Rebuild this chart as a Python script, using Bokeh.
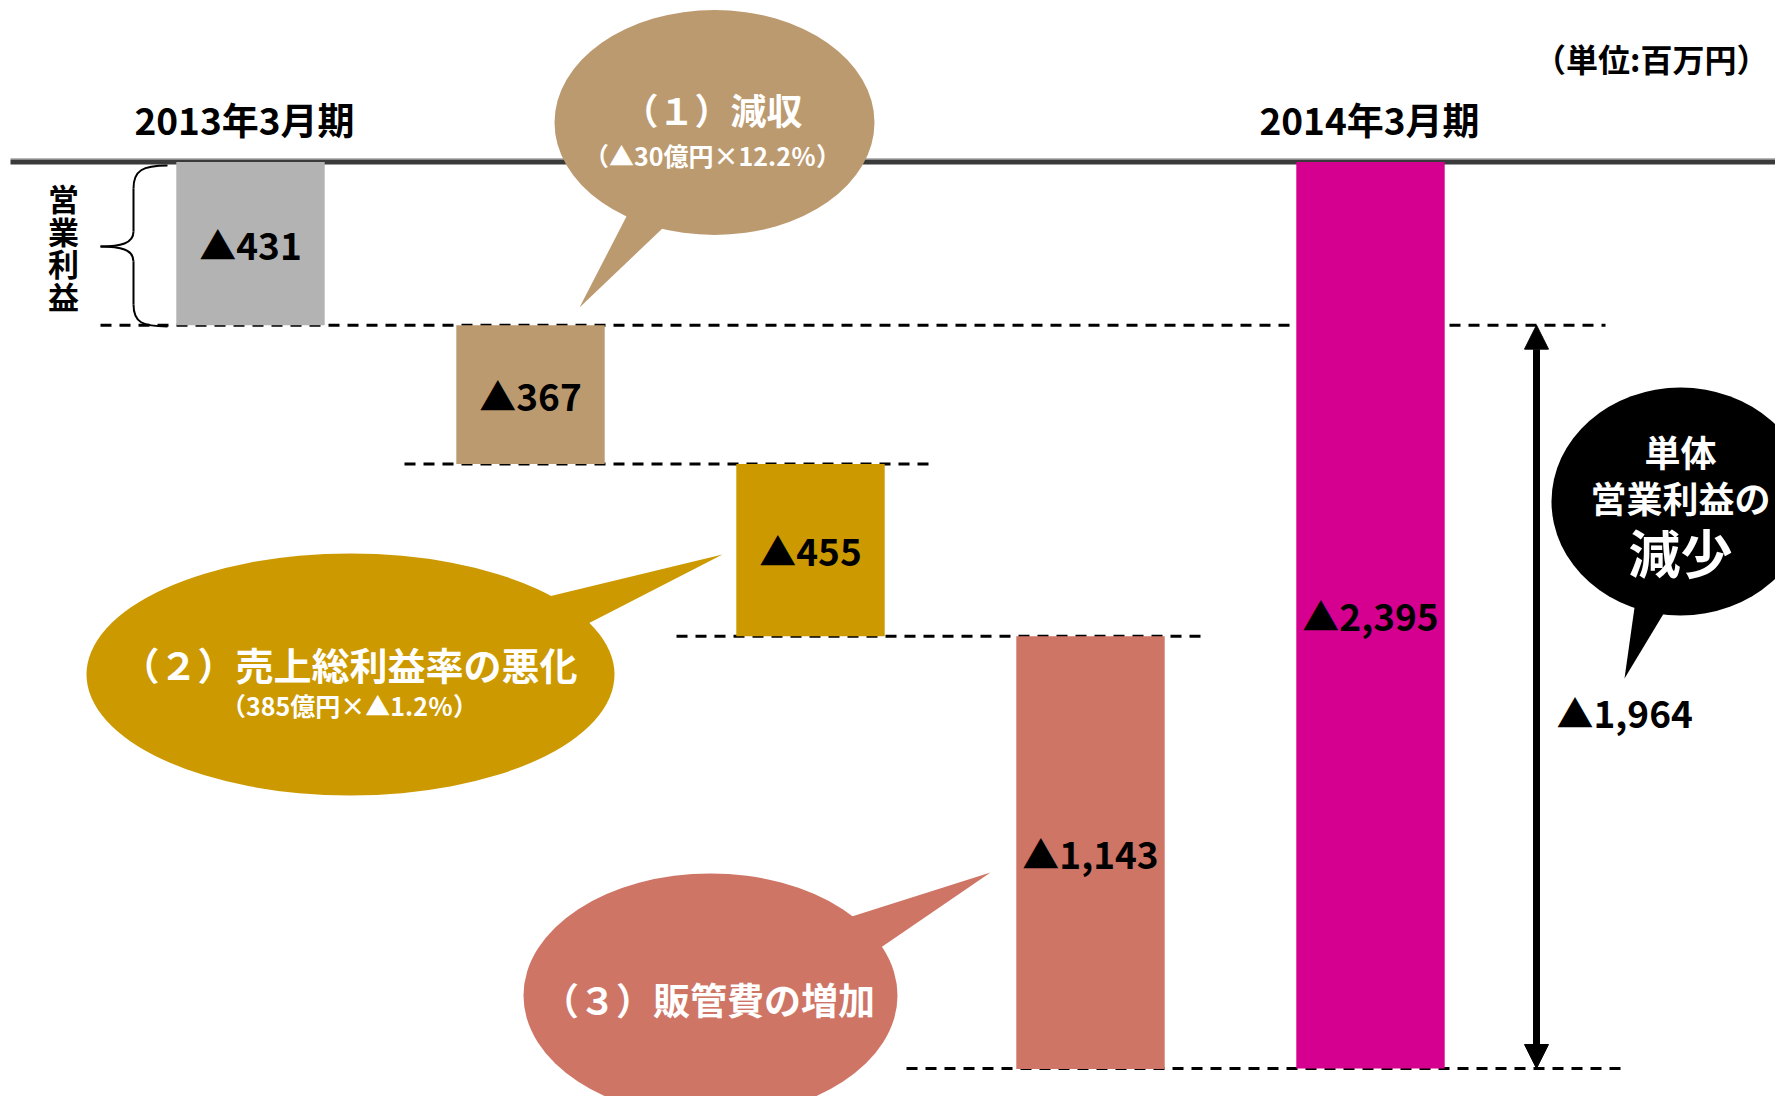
import numpy as np
from bokeh.plotting import figure
from bokeh.models import Range1d, Arrow, NormalHead
from bokeh.core.properties import value
from bokeh.embed import file_html
from bokeh.resources import INLINE

# ---------------- data (単位：百万円, ▲ = 減少) ----------------
categories = ["2013年3月期", "減収", "売上総利益率の悪化", "販管費の増加", "2014年3月期"]
changes = [431, 367, 455, 1143, 2395]
bar_colors = ["#B3B3B3", "#BC9A70", "#CC9900", "#CE7566", "#D5008F"]
period_labels = ["2013年3月期", "2014年3月期"]
unit_label = "（単位:百万円）"
side_label = "営業利益"
callout_titles = ["（１）減収", "（２）売上総利益率の悪化", "（３）販管費の増加"]
callout_notes = ["（▲30億円×12.2％）", "（385億円×▲1.2％）", ""]
callout_colors = ["#BC9A70", "#CC9900", "#CE7566"]
summary_lines = ["単体", "営業利益の", "減少"]

FONT = value("Noto Sans CJK JP")
W, H = 1775, 1096
PX_PER_X = 280.0            # pixels per category step
PX_PER_UNIT = 0.3785        # pixels per 百万円
ZERO_PY = 161.5             # pixel y of the zero line


def X(px):
    return (px - 250.0) / PX_PER_X


def Y(py):
    return -(py - ZERO_PY) / PX_PER_UNIT


p = figure(width=W, height=H, x_range=Range1d(X(0), X(W)), y_range=Range1d(Y(H), Y(0)),
           output_backend="svg", toolbar_location=None, x_axis_type=None, y_axis_type=None,
           min_border=0, min_border_left=0, min_border_right=0, min_border_top=0, min_border_bottom=0)
p.grid.visible = False
p.outline_line_color = None
p.background_fill_color = "white"
p.border_fill_color = "white"

# ---------------- waterfall geometry ----------------
idx = np.arange(len(categories))
vals = np.array(changes)
cum = np.cumsum(vals[:-1])
tops = np.concatenate([[0], -cum[:-1], [0]])
bottoms = np.concatenate([-cum[:-1], [-cum[-1]], [-vals[-1]]])
bottoms[0] = -vals[0]

# zero line
p.segment(x0=[X(10)], x1=[X(1800)], y0=[Y(158.3)], y1=[Y(158.3)], line_width=1.5, line_color="#B8B8B8")
p.segment(x0=[X(10)], x1=[X(1800)], y0=[0], y1=[0], line_width=5, line_color="#3A3A3A")

# dashed level lines
levels = [-cum[0], -cum[1], -cum[2], -vals[-1]]
dash_x0 = [X(100), X(404), X(676), X(906)]
dash_x1 = [X(1605), X(932), X(1204), X(1627)]
p.segment(x0=dash_x0, x1=dash_x1, y0=levels, y1=levels, line_width=3, line_color="black", line_dash="11 8")

# bars
p.vbar(x=idx, top=tops, bottom=bottoms, width=0.53, fill_color=bar_colors, line_color=None)

# bar labels
labels = ["▲{:,}".format(v) for v in changes]
p.text(x=idx, y=(tops + bottoms) / 2, text=labels, text_font=FONT, text_font_style="bold",
       text_font_size="37px", text_align="center", text_baseline="middle", text_color="black")

# period headers
p.text(x=[X(244), X(1369)], y=[Y(118), Y(118)], text=period_labels, text_font=FONT, text_font_style="bold",
       text_font_size="37px", text_align="center", text_baseline="middle", text_color="black")
p.text(x=[X(1768)], y=[Y(57)], text=[unit_label], text_font=FONT, text_font_style="bold",
       text_font_size="32px", text_align="right", text_baseline="middle", text_color="black")

# brace + vertical label
bz = dict(x0=[X(167), X(133), X(100), X(133)], y0=[Y(165), Y(231), Y(246), Y(304)],
          x1=[X(133), X(100), X(133), X(167)], y1=[Y(188), Y(246), Y(261), Y(326)],
          cx0=[X(142), X(133), X(120), X(133)], cy0=[Y(165), Y(243), Y(246), Y(322)],
          cx1=[X(133), X(120), X(133), X(142)], cy1=[Y(170), Y(246), Y(249), Y(326)])
p.bezier(**bz, line_width=2, line_color="black")
p.segment(x0=[X(133), X(133)], x1=[X(133), X(133)], y0=[Y(188), Y(261)], y1=[Y(231), Y(304)],
          line_width=2, line_color="black")
chars = list(side_label)
p.text(x=[X(63)] * len(chars), y=[Y(197 + 32.7 * i) for i in range(len(chars))], text=chars,
       text_font=FONT, text_font_style="bold", text_font_size="31px", text_align="center",
       text_baseline="middle", text_color="black")

# total-change arrow
diff = vals[-1] - vals[0]
p.add_layout(Arrow(x_start=X(1536), y_start=-vals[0], x_end=X(1536), y_end=-vals[-1], line_width=7,
                   line_color="black",
                   start=NormalHead(size=24, fill_color="black", line_color="black", line_width=1),
                   end=NormalHead(size=24, fill_color="black", line_color="black", line_width=1)))
p.text(x=[X(1556)], y=[Y(711)], text=["▲{:,}".format(diff)], text_font=FONT, text_font_style="bold",
       text_font_size="37px", text_align="left", text_baseline="middle", text_color="black")

# ---------------- callout balloons ----------------
ell_cx = [714, 350, 710, 1680]
ell_cy = [122, 674, 995, 501]
ell_w = [320, 528, 374, 258]
ell_h = [225, 242, 244, 228]
ell_col = callout_colors + ["black"]
tails = [
    ([628, 664, 579], [212, 226, 307]),
    ([540, 578, 722], [598, 628, 554]),
    ([845, 876, 990], [918, 950, 872]),
    ([1635, 1665, 1624], [600, 610, 678]),
]
for (tx, ty), col in zip(tails, ell_col):
    p.patch(x=[X(v) for v in tx], y=[Y(v) for v in ty], fill_color=col, line_color=None)
p.ellipse(x=[X(v) for v in ell_cx], y=[Y(v) for v in ell_cy], width=ell_w, height=ell_h,
          width_units="screen", height_units="screen", fill_color=ell_col, line_color=None)

title_py = [108, 663, 998]
note_py = [154, 704, 0]
title_px = [712, 349, 708]
title_size = ["36px", "38px", "37px"]
for t, n, tx, ty, ny, fs in zip(callout_titles, callout_notes, title_px, title_py, note_py, title_size):
    p.text(x=[X(tx)], y=[Y(ty)], text=[t], text_font=FONT, text_font_style="bold", text_font_size=fs,
           text_align="center", text_baseline="middle", text_color="white")
    if n:
        p.text(x=[X(tx)], y=[Y(ny)], text=[n], text_font=FONT, text_font_style="bold", text_font_size="25px",
               text_align="center", text_baseline="middle", text_color="white")

sum_py = [450, 496, 551]
sum_size = ["36px", "36px", "52px"]
for s, py, fs in zip(summary_lines, sum_py, sum_size):
    p.text(x=[X(1680)], y=[Y(py)], text=[s], text_font=FONT, text_font_style="bold", text_font_size=fs,
           text_align="center", text_baseline="middle", text_color="white")

open("out.html", "w").write(file_html(p, INLINE))
